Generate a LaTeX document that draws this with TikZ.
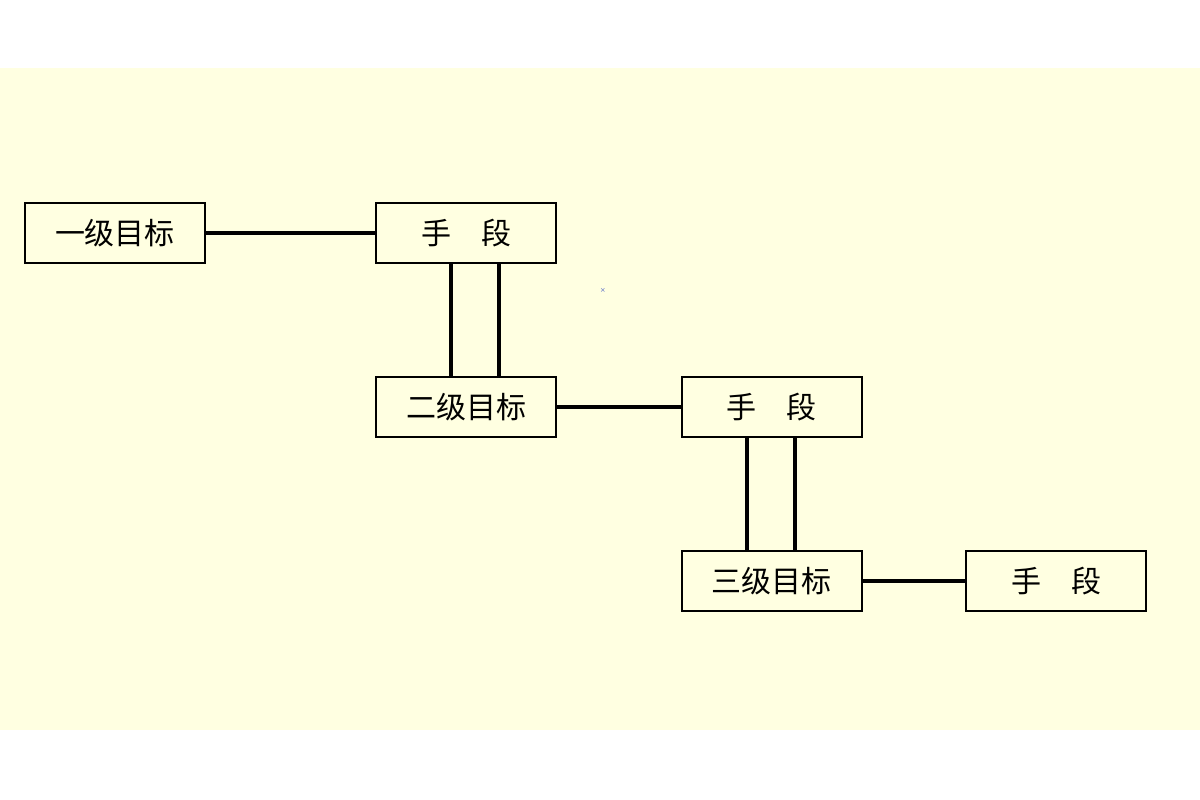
\documentclass[tikz,border=0pt]{standalone}
\usepackage{fontspec}
\newfontfamily\cjk{Noto Sans CJK SC}
\newfontfamily\dv{DejaVu Sans}
\definecolor{bgyellow}{RGB}{255,255,225}
\definecolor{crossblue}{RGB}{90,110,200}
\begin{document}
\begin{tikzpicture}[x=0.75pt,y=-0.75pt,
  box/.style={draw=black,line width=1.5pt,minimum width=180*0.75pt,minimum height=60*0.75pt,inner sep=0pt,font=\cjk\fontsize{22.5}{22.5}\selectfont},
  conn/.style={draw=black,line width=2.4pt}]
\fill[white] (0,0) rectangle (1200,800);
\useasboundingbox (0,0) rectangle (1200,800);
\fill[bgyellow] (0,68) rectangle (1200,730);
\node[box] (g1) at (115,233) {一级目标};
\node[box] (m1) at (466,233) {手\hspace{1em}段};
\node[box] (g2) at (466,407) {二级目标};
\node[box] (m2) at (771.5,407) {手\hspace{1em}段};
\node[box] (g3) at (771.5,581) {三级目标};
\node[box] (m3) at (1056,581) {手\hspace{1em}段};
\draw[conn] (g1.east) -- (m1.west);
\draw[conn] (g2.east) -- (m2.west);
\draw[conn] (g3.east) -- (m3.west);
\draw[conn] ([xshift=-15*0.75pt]m1.south) -- ([xshift=-15*0.75pt]g2.north);
\draw[conn] ([xshift=33*0.75pt]m1.south) -- ([xshift=33*0.75pt]g2.north);
\draw[conn] ([xshift=-24.5*0.75pt]m2.south) -- ([xshift=-24.5*0.75pt]g3.north);
\draw[conn] ([xshift=23.5*0.75pt]m2.south) -- ([xshift=23.5*0.75pt]g3.north);
\node[text=crossblue,font=\dv\fontsize{5}{5}\selectfont,inner sep=0pt] (x) at (603,291) {×};
\end{tikzpicture}
\end{document}
